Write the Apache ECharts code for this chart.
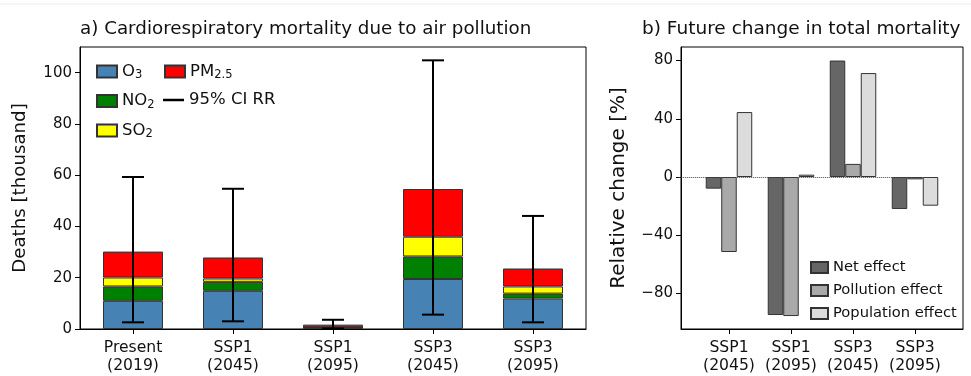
<!DOCTYPE html>
<html>
<head>
<meta charset="utf-8">
<script src="https://cdn.jsdelivr.net/npm/echarts@6/dist/echarts.min.js"></script>
<style>
  html, body { margin: 0; padding: 0; background: #fff; }
  #chart { width: 971px; height: 376px; }
</style>
</head>
<body>
<div id="chart"></div>
<script>
// Panel a: cardiorespiratory deaths (thousand) by pollutant
const categoriesA = ['Present\n(2019)', 'SSP1\n(2045)', 'SSP1\n(2095)', 'SSP3\n(2045)', 'SSP3\n(2095)'];
const o3   = [11.0, 14.9, 0.5, 19.5, 11.9];
const no2  = [5.6, 3.5, 0.1, 8.8, 1.9];
const so2  = [3.5, 1.3, 0.1, 7.7, 2.8];
const pm25 = [10.1, 8.2, 1.0, 18.6, 7.0];
const ciLow  = [2.6, 3.0, 0.2, 5.6, 2.6];
const ciHigh = [59.3, 54.7, 3.6, 104.8, 44.1];
const ticksA = [0, 20, 40, 60, 80, 100];

// Panel b: relative change in total mortality (%)
const categoriesB = ['SSP1\n(2045)', 'SSP1\n(2095)', 'SSP3\n(2045)', 'SSP3\n(2095)'];
const netEffect        = [-8.0, -94.8, 80.0, -22.0];
const pollutionEffect  = [-51.5, -95.5, 9.0, -1.6];
const populationEffect = [44.6, 1.6, 71.4, -19.7];
const ticksB = [-80, -40, 0, 40, 80];

const FONT = 'DejaVu Sans';
const INK = '#111';
const EDGE = '#333';

const indexed = arr => arr.map((v, i) => [i, v]);
const minus = v => (v < 0 ? '\u2212' + Math.abs(v) : String(v));
const positions = arr => arr.map((_, i) => i);

const richSub = {
  m: { fontFamily: FONT, fontSize: 16.5, color: INK, lineHeight: 20 },
  s: { fontFamily: FONT, fontSize: 11.5, color: INK, lineHeight: 20, verticalAlign: 'bottom' }
};
const legendLabels = {
  'O3': '{m|O}{s|3}',
  'NO2': '{m|NO}{s|2}',
  'SO2': '{m|SO}{s|2}',
  'PM2.5': '{m|PM}{s|2.5}'
};

const chart = echarts.init(document.getElementById('chart'), null, { renderer: 'canvas' });

const axisLineStyle = { show: true, onZero: false, lineStyle: { color: '#000', width: 1 } };
const tickStyle = { show: true, inside: false, length: 5, lineStyle: { color: '#000', width: 1 } };
const tickFont = { fontFamily: FONT, fontSize: 15, color: INK };
const catFont = { fontFamily: FONT, fontSize: 15.6, color: INK, lineHeight: 18 };

// Stacked pollutant bars live on a category axis laid over the framed panel a
const stackBar = (name, data, color) => ({
  name, type: 'bar', stack: 'deaths', xAxisIndex: 2, yAxisIndex: 2,
  barWidth: 60,
  data: data,
  itemStyle: { color, borderColor: EDGE, borderWidth: 1 }
});

const effectBar = (name, data, color, extra) => Object.assign({
  name, type: 'bar', xAxisIndex: 1, yAxisIndex: 1,
  barWidth: 15.5, barGap: '0%',
  data: indexed(data),
  itemStyle: { color, borderColor: EDGE, borderWidth: 1 }
}, extra || {});

const titleFont = { fontFamily: FONT, fontSize: 18.3, fontWeight: 'normal', color: INK };

chart.setOption({
  animation: false,
  backgroundColor: '#fff',
  textStyle: { fontFamily: FONT, color: INK },
  title: [
    { text: 'a) Cardiorespiratory mortality due to air pollution', left: 80, top: 20, padding: 0, textStyle: titleFont },
    { text: 'b) Future change in total mortality', left: 642, top: 20, padding: 0,
      textStyle: Object.assign({}, titleFont, { fontSize: 18.5 }) }
  ],
  graphic: [
    { type: 'line', shape: { x1: 0, y1: 4, x2: 971, y2: 4 }, style: { stroke: '#ececec', lineWidth: 1 }, silent: true }
  ],
  grid: [
    { left: 80, top: 47, width: 506, height: 282, show: true, borderColor: '#000', borderWidth: 1, backgroundColor: 'transparent' },
    { left: 681, top: 47, width: 282, height: 282, show: true, borderColor: '#000', borderWidth: 1, backgroundColor: 'transparent' },
    { left: 83, top: 47, width: 500, height: 282, show: false }
  ],
  legend: [
    { data: ['O3', 'NO2', 'SO2'], orient: 'vertical', left: 96, top: 63, padding: 0, icon: 'rect',
      itemWidth: 20, itemHeight: 12, itemGap: 11,
      selectedMode: false, formatter: n => legendLabels[n], textStyle: { rich: richSub } },
    { data: ['PM2.5'], orient: 'vertical', left: 164, top: 63, padding: 0, icon: 'rect',
      itemWidth: 20, itemHeight: 12,
      selectedMode: false, formatter: n => legendLabels[n], textStyle: { rich: richSub } },
    { data: [{ name: '95% CI RR', icon: 'rect' }], left: 163, top: 90, padding: 0, itemWidth: 21, itemHeight: 2.5,
      selectedMode: false, textStyle: { fontFamily: FONT, fontSize: 16.5, color: INK, lineHeight: 20 } },
    { data: ['Net effect', 'Pollution effect', 'Population effect'], orient: 'vertical', left: 810, top: 259,
      padding: 0, icon: 'rect', itemWidth: 17, itemHeight: 11, itemGap: 6, selectedMode: false,
      textStyle: { fontFamily: FONT, fontSize: 14.7, color: INK, lineHeight: 17 } }
  ],
  xAxis: [
    {
      type: 'value', gridIndex: 0, min: -0.53, max: 4.53,
      axisLine: axisLineStyle, splitLine: { show: false },
      axisTick: Object.assign({}, tickStyle, { customValues: positions(categoriesA) }),
      axisLabel: Object.assign({ customValues: positions(categoriesA), formatter: v => categoriesA[v], margin: 10 }, catFont)
    },
    {
      type: 'value', gridIndex: 1, min: -0.774, max: 3.774,
      axisLine: axisLineStyle, splitLine: { show: false },
      axisTick: Object.assign({}, tickStyle, { customValues: positions(categoriesB) }),
      axisLabel: Object.assign({ customValues: positions(categoriesB), formatter: v => categoriesB[v], margin: 10 }, catFont)
    },
    { type: 'category', gridIndex: 2, data: categoriesA, show: false }
  ],
  yAxis: [
    {
      type: 'value', gridIndex: 0, min: 0, max: 110,
      name: 'Deaths [thousand]', nameLocation: 'middle', nameGap: 51,
      nameTextStyle: { fontFamily: FONT, fontSize: 18.2, color: INK },
      axisLine: axisLineStyle, splitLine: { show: false },
      axisTick: Object.assign({}, tickStyle, { customValues: ticksA }),
      axisLabel: Object.assign({ customValues: ticksA, margin: 8 }, tickFont)
    },
    {
      type: 'value', gridIndex: 1, min: -104.4, max: 89.3,
      name: 'Relative change [%]', nameLocation: 'middle', nameGap: 52,
      nameTextStyle: { fontFamily: FONT, fontSize: 20, color: INK },
      axisLine: axisLineStyle, splitLine: { show: false },
      axisTick: Object.assign({}, tickStyle, { customValues: ticksB }),
      axisLabel: Object.assign({ customValues: ticksB, margin: 8, formatter: minus }, tickFont)
    },
    { type: 'value', gridIndex: 2, min: 0, max: 110, show: false, splitLine: { show: false } }
  ],
  series: [
    stackBar('O3', o3, '#4682b4'),
    stackBar('NO2', no2, '#008000'),
    stackBar('SO2', so2, '#ffff00'),
    stackBar('PM2.5', pm25, '#ff0000'),
    {
      name: '95% CI RR', type: 'custom', xAxisIndex: 2, yAxisIndex: 2, z: 5,
      itemStyle: { color: '#000' },
      data: ciLow.map((lo, i) => [i, lo, ciHigh[i]]),
      encode: { x: 0, y: [1, 2] },
      renderItem: (params, api) => {
        const x = api.value(0);
        const lo = api.coord([x, api.value(1)]);
        const hi = api.coord([x, api.value(2)]);
        const half = 11;
        const style = { stroke: '#000', lineWidth: 2, fill: null };
        return {
          type: 'group',
          children: [
            { type: 'line', shape: { x1: lo[0], y1: lo[1], x2: hi[0], y2: hi[1] }, style },
            { type: 'line', shape: { x1: hi[0] - half, y1: hi[1], x2: hi[0] + half, y2: hi[1] }, style },
            { type: 'line', shape: { x1: lo[0] - half, y1: lo[1], x2: lo[0] + half, y2: lo[1] }, style }
          ]
        };
      }
    },
    effectBar('Net effect', netEffect, '#666666', {
      markLine: {
        silent: true, symbol: 'none', label: { show: false },
        lineStyle: { type: 'dotted', color: '#444', width: 1 },
        data: [[{ coord: [-0.56, 0] }, { coord: [3.55, 0] }]]
      }
    }),
    effectBar('Pollution effect', pollutionEffect, '#a9a9a9'),
    effectBar('Population effect', populationEffect, '#dcdcdc')
  ]
});
</script>
</body>
</html>
